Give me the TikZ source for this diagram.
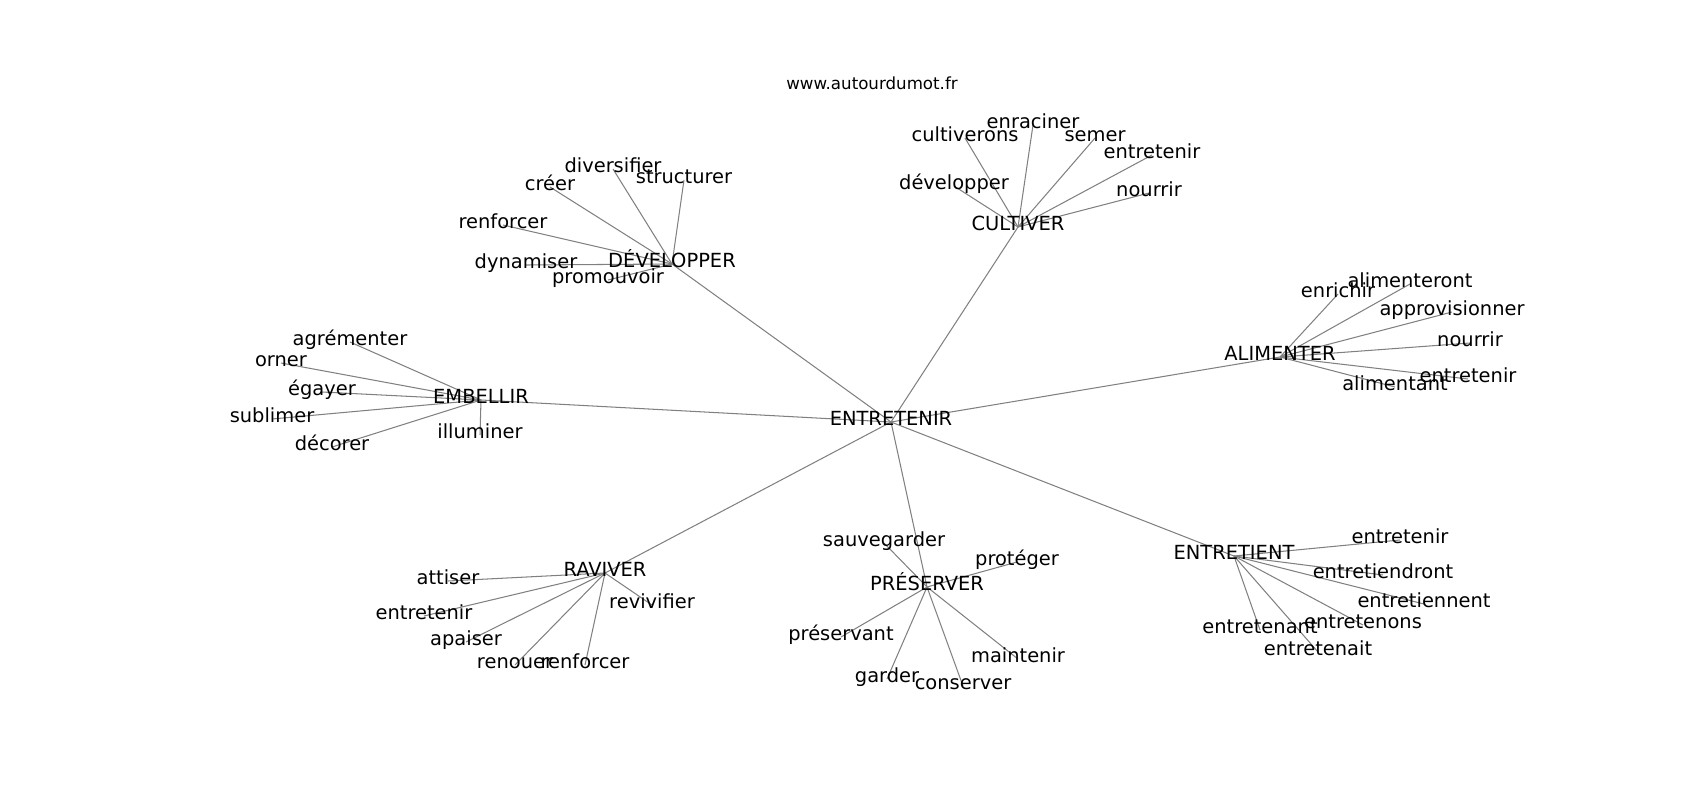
\documentclass[tikz,border=0pt]{standalone}
\usepackage{fontspec}
\setmainfont{DejaVu Sans}
\usetikzlibrary{backgrounds}
\definecolor{edgegray}{RGB}{128,128,128}
\tikzset{
  lbl/.style={inner sep=0pt, outer sep=0pt, anchor=center, text height=0.76em, text depth=0.236em, font=\fontsize{14}{16}\selectfont, text=black},
  ttl/.style={inner sep=0pt, anchor=center, font=\fontsize{12}{14}\selectfont, text=black},
  edge/.style={draw=edgegray, line width=0.75pt}
}
\begin{document}
\begin{tikzpicture}[x=0.72pt, y=-0.72pt]
\useasboundingbox (0,-2) rectangle (1700,798);
\node[ttl] (title) at (872,81) {www.autourdumot.fr};
% hubs
\node[lbl] (root) at (891,420) {ENTRETENIR};
\node[lbl] (dev) at (672,262) {DÉVELOPPER};
\node[lbl] (cul) at (1018,225) {CULTIVER};
\node[lbl] (ali) at (1280,355) {ALIMENTER};
\node[lbl] (emb) at (481,398) {EMBELLIR};
\node[lbl] (rav) at (605,571) {RAVIVER};
\node[lbl] (pre) at (927,585) {PRÉSERVER};
\node[lbl] (ent) at (1234,554) {ENTRETIENT};
% DEVELOPPER children
\node[lbl] (d1) at (550,185) {créer};
\node[lbl] (d2) at (613,167) {diversifier};
\node[lbl] (d3) at (684,178) {structurer};
\node[lbl] (d4) at (503,223) {renforcer};
\node[lbl] (d5) at (526,263) {dynamiser};
\node[lbl] (d6) at (608,278) {promouvoir};
% CULTIVER children
\node[lbl] (c1) at (1033,123) {enraciner};
\node[lbl] (c2) at (965,136) {cultiverons};
\node[lbl] (c3) at (1095,136) {semer};
\node[lbl] (c4) at (1152,153) {entretenir};
\node[lbl] (c5) at (954,184) {développer};
\node[lbl] (c6) at (1149,191) {nourrir};
% ALIMENTER children
\node[lbl] (a1) at (1338,292) {enrichir};
\node[lbl] (a2) at (1410,282) {alimenteront};
\node[lbl] (a3) at (1452,310) {approvisionner};
\node[lbl] (a4) at (1470,341) {nourrir};
\node[lbl] (a5) at (1468,377) {entretenir};
\node[lbl] (a6) at (1395,385) {alimentant};
% EMBELLIR children
\node[lbl] (b1) at (350,340) {agrémenter};
\node[lbl] (b2) at (281,361) {orner};
\node[lbl] (b3) at (322,390) {égayer};
\node[lbl] (b4) at (272,417) {sublimer};
\node[lbl] (b5) at (332,445) {décorer};
\node[lbl] (b6) at (480,433) {illuminer};
% RAVIVER children
\node[lbl] (r1) at (448,579) {attiser};
\node[lbl] (r2) at (424,614) {entretenir};
\node[lbl] (r3) at (652,603) {revivifier};
\node[lbl] (r4) at (466,640) {apaiser};
\node[lbl] (r5) at (515,663) {renouer};
\node[lbl] (r6) at (585,663) {renforcer};
% PRESERVER children
\node[lbl] (p1) at (884,541) {sauvegarder};
\node[lbl] (p2) at (1017,560) {protéger};
\node[lbl] (p3) at (841,635) {préservant};
\node[lbl] (p4) at (1018,657) {maintenir};
\node[lbl] (p5) at (887,677) {garder};
\node[lbl] (p6) at (963,684) {conserver};
% ENTRETIENT children
\node[lbl] (t1) at (1400,538) {entretenir};
\node[lbl] (t2) at (1383,573) {entretiendront};
\node[lbl] (t3) at (1424,602) {entretiennent};
\node[lbl] (t4) at (1363,623) {entretenons};
\node[lbl] (t5) at (1260,628) {entretenant};
\node[lbl] (t6) at (1318,650) {entretenait};
\begin{pgfonlayer}{background}
\foreach \h in {dev,cul,ali,emb,rav,pre,ent}
  \draw[edge] (root.center) -- (\h.center);
\foreach \c in {d1,d2,d3,d4,d5,d6}
  \draw[edge] (dev.center) -- (\c.center);
\foreach \c in {c1,c2,c3,c4,c5,c6}
  \draw[edge] (cul.center) -- (\c.center);
\foreach \c in {a1,a2,a3,a4,a5,a6}
  \draw[edge] (ali.center) -- (\c.center);
\foreach \c in {b1,b2,b3,b4,b5,b6}
  \draw[edge] (emb.center) -- (\c.center);
\foreach \c in {r1,r2,r3,r4,r5,r6}
  \draw[edge] (rav.center) -- (\c.center);
\foreach \c in {p1,p2,p3,p4,p5,p6}
  \draw[edge] (pre.center) -- (\c.center);
\foreach \c in {t1,t2,t3,t4,t5,t6}
  \draw[edge] (ent.center) -- (\c.center);
\end{pgfonlayer}
\end{tikzpicture}
\end{document}
